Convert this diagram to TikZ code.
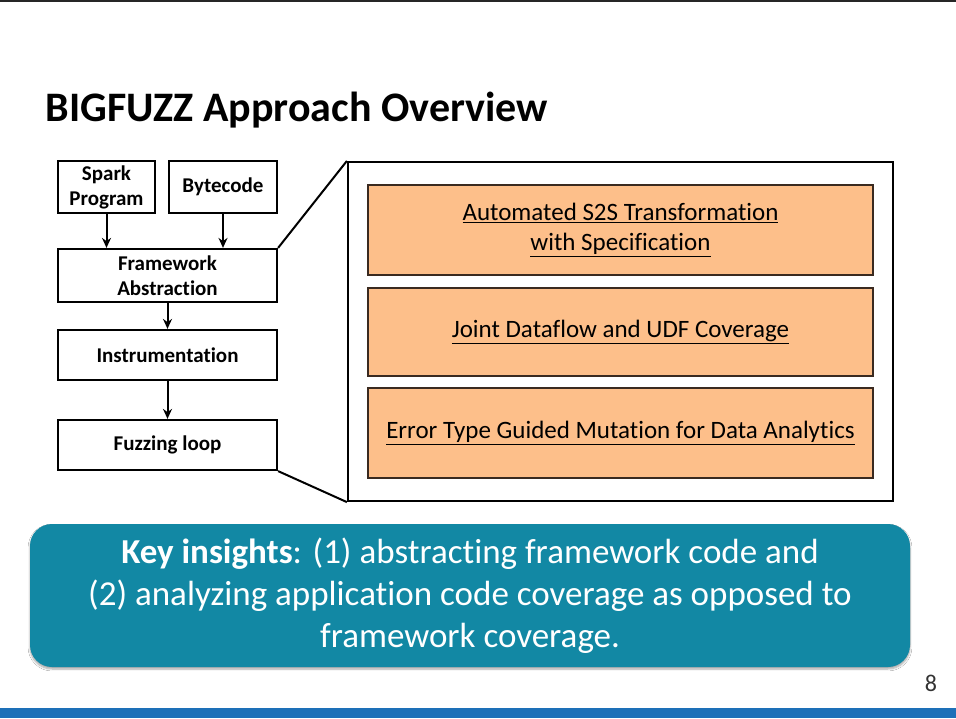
\documentclass[tikz,border=0pt]{standalone}
\usepackage{fontspec}
\setmainfont{Carlito}[Ligatures=NoCommon]
\usetikzlibrary{arrows.meta,shadows.blur}
\definecolor{orangefill}{HTML}{FDBF8A}
\definecolor{orangeline}{HTML}{3A2A20}
\definecolor{tealbox}{HTML}{1288A4}
\definecolor{bluebar}{HTML}{1D70B8}
\tikzset{
  flowbox/.style={draw=black, line width=2.2pt, minimum width=219pt, minimum height=50pt, inner sep=0pt, align=center, font=\fontsize{21}{25}\selectfont\bfseries},
  featbox/.style={draw=orangeline, fill=orangefill, line width=2pt, minimum width=505pt, minimum height=90pt, inner sep=0pt, align=center, font=\fontsize{25}{30}\selectfont},
  flowarrow/.style={-{Stealth[length=10pt,width=9pt]}, line width=2pt},
  zoomline/.style={line width=2pt}
}
\begin{document}
\begin{tikzpicture}[x=1pt,y=-1pt]
\useasboundingbox (0,0) rectangle (956,718);
\fill[white] (0,0) rectangle (956,718);
\fill[black!85] (0,0) rectangle (956,2);
\fill[bluebar] (0,708) rectangle (956,718);

\node[anchor=base west, font=\fontsize{42}{48}\selectfont\bfseries] (title) at (42,121) {BIGFUZZ Approach Overview};

% left flow
\node[flowbox, minimum width=97pt, minimum height=52pt] (sp) at (106.5,187) {Spark\\Program};
\node[flowbox, minimum width=108pt, minimum height=52pt] (bc) at (223,187) {Bytecode};
\node[flowbox, minimum height=53pt] (fa) at (167.5,275.5) {Framework\\Abstraction};
\node[flowbox] (ins) at (167.5,355) {Instrumentation};
\node[flowbox] (fz) at (167.5,445) {Fuzzing loop};

\draw[flowarrow] (sp.south) -- (sp.south |- fa.north);
\draw[flowarrow] (bc.south) -- (bc.south |- fa.north);
\draw[flowarrow] (fa.south) -- (ins.north);
\draw[flowarrow] (ins.south) -- (fz.north);

% big box
\node[draw=black, line width=2.2pt, minimum width=545pt, minimum height=339pt, inner sep=0pt] (big) at (620.5,331.5) {};
\draw[zoomline] (fa.north east) -- (big.north west);
\draw[zoomline] (fz.south east) -- (big.south west);

\node[featbox] (f1) at (620.5,230) {\underline{Automated S2S Transformation}\\\underline{with Specification}};
\node[featbox, minimum height=88pt] (f2) at (620.5,332) {\underline{Joint Dataflow and UDF Coverage}};
\node[featbox] (f3) at (620.5,433) {\underline{Error Type Guided Mutation for Data Analytics}};

% key insights
\node[fill=tealbox, rounded corners=22pt, minimum width=880pt, minimum height=143pt, inner sep=0pt, align=center, text=white,
      blur shadow={shadow blur steps=6, shadow xshift=0pt, shadow yshift=-2pt, shadow opacity=35},
      font=\fontsize{35}{42}\selectfont] (key) at (470,595.5)
  {\textbf{Key insights}: (1) abstracting framework code and\\(2) analyzing application code coverage as opposed to\\framework coverage.};

\node[anchor=base, font=\fontsize{24}{28}\selectfont, text=black!80] (pg) at (931,691) {8};
\end{tikzpicture}
\end{document}
